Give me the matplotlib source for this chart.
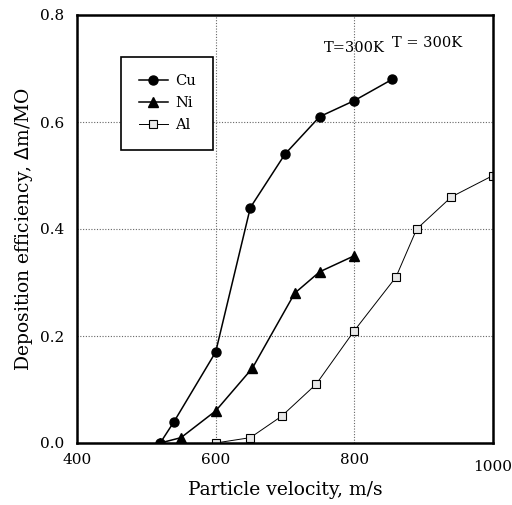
import numpy as np
from matplotlib import pyplot as plt

plt.rcParams['font.family'] = ['DejaVu Serif']

cu_v = [520, 540, 600, 650, 700, 750, 800, 855]
cu_d = [0.0, 0.04, 0.17, 0.44, 0.54, 0.61, 0.64, 0.68]

ni_v = [520, 550, 600, 653, 714, 750, 800]
ni_d = [0.0, 0.01, 0.06, 0.14, 0.28, 0.32, 0.35]

al_v = [600, 650, 695, 745, 800, 860, 890, 940, 1000]
al_d = [0.0, 0.01, 0.05, 0.11, 0.21, 0.31, 0.40, 0.46, 0.50]

xticks = [400, 600, 800, 1000]
yticks = [0.0, 0.2, 0.4, 0.6, 0.8]

fig = plt.figure(figsize=[5.12, 5.05], dpi=100)
ax = fig.add_axes([77/512, 1 - 443/505, 416/512, 428/505])

ax.plot(cu_v, cu_d, color='k', lw=1.1, marker='o', ms=6.5, label='Cu')
ax.plot(ni_v, ni_d, color='k', lw=1.1, marker='^', ms=7, label='Ni')
ax.plot(al_v, al_d, color='k', lw=0.7, marker='s', ms=5.5, mfc='#e8e8e8',
        mec='k', mew=0.8, label='Al')

ax.text(800, 0.738, 'T=300K', ha='center', va='center', fontsize=10.5)
ax.text(905, 0.748, 'T = 300K', ha='center', va='center', fontsize=10.5)

ax.set_xlim([400, 1000])
ax.set_ylim([0, 0.8])
ax.set_xticks(xticks)
ax.set_yticks(yticks)
ax.set_xticklabels([str(v) for v in xticks])
ax.set_yticklabels([f"{v:.1f}" for v in yticks])
ax.tick_params(axis='both', which='both', length=0, labelsize=11)
ax.tick_params(axis='x', pad=7)
ax.tick_params(axis='y', pad=9)
# the last label sits a little lower in the original
lbl = ax.get_xticklabels()[-1]
lbl.set_y(-0.016)

ax.grid(True, color='#666666', ls=(0, (1, 1.5)), lw=0.8)
for s in ax.spines.values():
    s.set_linewidth(1.8)

ax.set_xlabel("Particle velocity, m/s", fontsize=13.5, labelpad=5)
ax.set_ylabel("Deposition efficiency, $\\mathit{\\Delta}$m/MO", fontsize=13.5, labelpad=4)

leg = ax.legend(loc='upper left', bbox_to_anchor=(0.106, 0.902), handlelength=2.0,
                fontsize=10.5, fancybox=False, edgecolor='k', framealpha=1,
                borderpad=1.2, labelspacing=0.55, borderaxespad=0, handletextpad=0.5)
leg.get_frame().set_linewidth(1.2)

plt.savefig('out.png', dpi=100)
